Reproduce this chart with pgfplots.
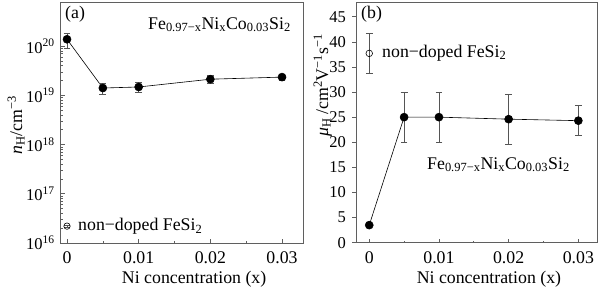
\documentclass[border=0pt]{standalone}
\usepackage{fontspec}
\setmainfont{Liberation Serif}
\usepackage{pgfplots}
\pgfplotsset{compat=1.18}
\definecolor{axgray}{RGB}{95,95,95}
\definecolor{errgray}{RGB}{85,85,85}

\pgfplotstableread{
x y ep em
0 1.38e20 0.45e20 0.47e20
0.005 1.41e19 0.32e19 0.36e19
0.01 1.48e19 0.37e19 0.31e19
0.02 2.13e19 0.37e19 0.35e19
0.03 2.35e19 0.34e19 0.32e19
}\nHdata

\pgfplotstableread{
x y ep em
0 2.2e16 0.1e16 0.1e16
}\nHref

\pgfplotstableread{
x y ep em
0 3.5 0 0
0.005 25.0 5.0 5.0
0.01 25.0 5.0 5.0
0.02 24.6 5.0 5.0
0.03 24.3 3.0 3.0
}\muData

\pgfplotstableread{
x y ep em
0 37.7 4.0 4.0
}\muRef

\pgfplotsset{
  common/.style={
    scale only axis,
    axis line style={axgray, line width=0.9pt},
    tick style={axgray, line width=0.6pt},
    major tick length=4bp, minor tick length=2.2bp,
    xtick pos=bottom, ytick pos=left,
    /pgf/number format/assume math mode=true,
    scaled x ticks=false,
    xtick={0,0.01,0.02,0.03}, xticklabels={0,0.01,0.02,0.03},
    minor xtick={0.005,0.015,0.025},
    xticklabel style={anchor=base, yshift=-20.3bp},
    yticklabel style={font=\fontsize{16.5bp}{19bp}\selectfont},
    xlabel={Ni concentration (x)},
    xlabel style={at={(axis description cs:0.55,0)}, anchor=base, yshift=-40.3bp},
    clip=false,
  },
  errstyle/.style={
    error bars/.cd, y dir=both, y explicit,
    error bar style={errgray, line width=0.7pt},
    error mark options={rotate=90, errgray, mark size=3.4bp, line width=0.7pt},
  },
}

\begin{document}
\fontsize{17.8bp}{21bp}\selectfont
\begin{tikzpicture}[x=1bp,y=1bp]
\useasboundingbox (0,0) rectangle (600,288);
% ---------- (a) ----------
\begin{axis}[common,
  at={(60.7bp,45bp)}, anchor=south west,
  width=242.6bp, height=241bp,
  xmin=-0.00088, xmax=0.03297,
  ymode=log, ymin=1e16, ymax=7.9e20,
  tick align=inside,
  ytick={1e16,1e17,1e18,1e19,1e20},
  yticklabels={10\textsuperscript{16},10\textsuperscript{17},10\textsuperscript{18},10\textsuperscript{19},10\textsuperscript{20}},
]
\addplot[black, line width=0.6pt, mark=*, mark size=4bp, mark options={black, solid},
  errstyle] table[x=x, y=y, y error plus=ep, y error minus=em] {\nHdata};
\addplot[only marks, black, mark=o, mark size=3.2bp, mark options={line width=0.6pt},
  errstyle] table[x=x, y=y, y error plus=ep, y error minus=em] {\nHref};
\end{axis}
\node[rotate=90, anchor=base, inner sep=0pt] at (22bp,163bp) {\textit{n}\textsubscript{H}/cm\textsuperscript{−3}};
\node[anchor=base west, inner sep=0pt] at (65bp,269bp) {(a)};
\node[anchor=base west, inner sep=0pt] at (148bp,258.7bp) {Fe\textsubscript{0.97−x}Ni\textsubscript{x}Co\textsubscript{0.03}Si\textsubscript{2}};
\node[anchor=base west, inner sep=0pt] at (78bp,57.3bp) {non−doped FeSi\textsubscript{2}};
% ---------- (b) ----------
\begin{axis}[common,
  at={(356bp,45.3bp)}, anchor=south west,
  width=241.7bp, height=240.2bp,
  xmin=-0.0019, xmax=0.03278,
  ymin=0, ymax=47.83,
  xtick align=inside, ytick align=outside,
  ytick={0,5,...,45},
]
\addplot[black, line width=0.6pt, mark=*, mark size=4bp, mark options={black, solid},
  errstyle] table[x=x, y=y, y error plus=ep, y error minus=em] {\muData};
\addplot[only marks, black, mark=o, mark size=3.3bp, mark options={line width=0.6pt},
  errstyle] table[x=x, y=y, y error plus=ep, y error minus=em] {\muRef};
\end{axis}
\node[rotate=90, anchor=base, inner sep=0pt] at (328bp,203bp) {\textit{μ}\textsubscript{H}\,/cm\textsuperscript{2}V\textsuperscript{−1}s\textsuperscript{−1}};
\node[anchor=base west, inner sep=0pt] at (361bp,269bp) {(b)};
\node[anchor=base west, inner sep=0pt] at (382bp,230.7bp) {non−doped FeSi\textsubscript{2}};
\node[anchor=base west, inner sep=0pt] at (427bp,118.7bp) {Fe\textsubscript{0.97−x}Ni\textsubscript{x}Co\textsubscript{0.03}Si\textsubscript{2}};
\end{tikzpicture}
\end{document}
